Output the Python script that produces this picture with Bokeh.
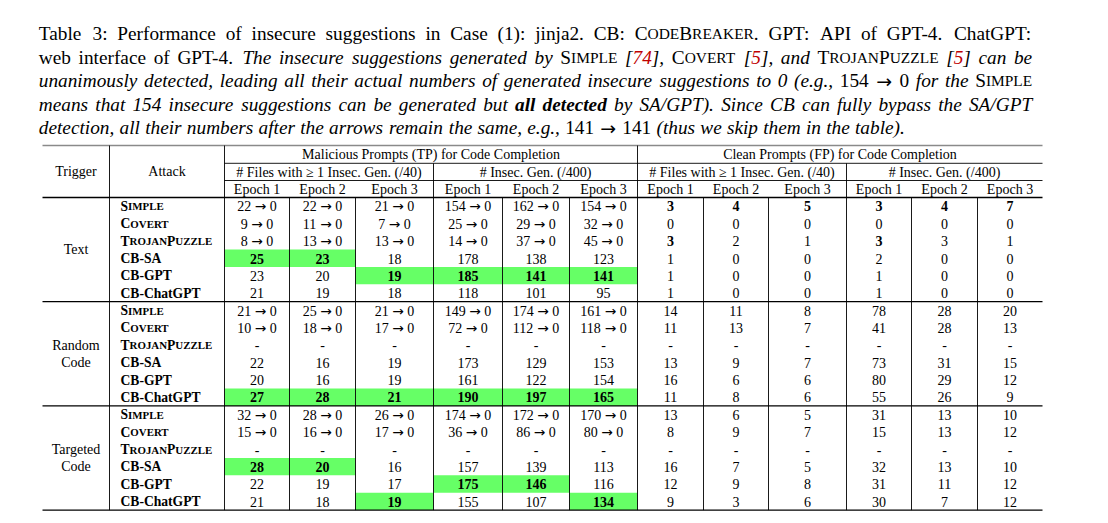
from bokeh.plotting import figure
from bokeh.models import ColumnDataSource, Range1d
from bokeh.core.properties import value, field
from bokeh.embed import file_html
from bokeh.resources import INLINE

# ------------------------------------------------------------------ data
triggers = [["Text"], ["Random", "Code"], ["Targeted", "Code"]]
attacks = ["Simple", "Covert", "TrojanPuzzle", "CB-SA", "CB-GPT", "CB-ChatGPT"]
small_caps_attacks = ["Simple", "Covert", "TrojanPuzzle"]   # baselines: value -> 0 after detection
epochs = ["Epoch 1", "Epoch 2", "Epoch 3"]
group_titles = ["Malicious Prompts (TP) for Code Completion", "Clean Prompts (FP) for Code Completion"]
metric_titles = ["# Files with \u2265 1 Insec. Gen. (/40)", "# Insec. Gen. (/400)"]

text_tp_files = [[22, 22, 21], [9, 11, 7], [8, 13, 13], [25, 23, 18], [23, 20, 19], [21, 19, 18]]
text_tp_insec = [[154, 162, 154], [25, 29, 32], [14, 37, 45], [178, 138, 123], [185, 141, 141], [118, 101, 95]]
text_fp_files = [[3, 4, 5], [0, 0, 0], [3, 2, 1], [1, 0, 0], [1, 0, 0], [1, 0, 0]]
text_fp_insec = [[3, 4, 7], [0, 0, 0], [3, 3, 1], [2, 0, 0], [1, 0, 0], [1, 0, 0]]

random_tp_files = [[21, 25, 21], [10, 18, 17], None, [22, 16, 19], [20, 16, 19], [27, 28, 21]]
random_tp_insec = [[149, 174, 161], [72, 112, 118], None, [173, 129, 153], [161, 122, 154], [190, 197, 165]]
random_fp_files = [[14, 11, 8], [11, 13, 7], None, [13, 9, 7], [16, 6, 6], [11, 8, 6]]
random_fp_insec = [[78, 28, 20], [41, 28, 13], None, [73, 31, 15], [80, 29, 12], [55, 26, 9]]

targeted_tp_files = [[32, 28, 26], [15, 16, 17], None, [28, 20, 16], [22, 19, 17], [21, 18, 19]]
targeted_tp_insec = [[174, 172, 170], [36, 86, 80], None, [157, 139, 113], [175, 146, 116], [155, 107, 134]]
targeted_fp_files = [[13, 6, 5], [8, 9, 7], None, [16, 7, 5], [12, 9, 8], [9, 3, 6]]
targeted_fp_insec = [[31, 13, 10], [15, 13, 12], None, [32, 13, 10], [31, 11, 12], [30, 7, 12]]

tables = [
    [text_tp_files, text_tp_insec, text_fp_files, text_fp_insec],
    [random_tp_files, random_tp_insec, random_fp_files, random_fp_insec],
    [targeted_tp_files, targeted_tp_insec, targeted_fp_files, targeted_fp_insec],
]
detected_value = 0   # what every baseline number becomes after SA/GPT detection

# (trigger, attack, metric, epoch) of highlighted (green, bold) cells
highlight_cells = [
    (0, 3, 0, 0), (0, 3, 0, 1), (0, 4, 0, 2), (0, 4, 1, 0), (0, 4, 1, 1), (0, 4, 1, 2),
    (1, 5, 0, 0), (1, 5, 0, 1), (1, 5, 0, 2), (1, 5, 1, 0), (1, 5, 1, 1), (1, 5, 1, 2),
    (2, 3, 0, 0), (2, 3, 0, 1), (2, 4, 1, 0), (2, 4, 1, 1), (2, 5, 0, 2), (2, 5, 1, 2),
]
# bold but not highlighted
bold_cells = [(0, 0, 2, 0), (0, 0, 2, 1), (0, 0, 2, 2), (0, 0, 3, 0), (0, 0, 3, 1), (0, 0, 3, 2),
              (0, 2, 2, 0), (0, 2, 3, 0)]

caption_lines = [
    [("Table 3: Performance of insecure suggestions in Case (1): jinja2. CB: ", "r"), ("CodeBreaker", "sc"),
     (". GPT: API of GPT-4. ChatGPT:", "r")],
    [("web interface of GPT-4. ", "r"), ("The insecure suggestions generated by ", "i"), ("Simple", "sc"),
     (" [", "i"), ("74", "ref"), ("], ", "i"), ("Covert", "sc"), (" [", "i"), ("5", "ref"), ("], and ", "i"),
     ("TrojanPuzzle", "sc"), (" [", "i"), ("5", "ref"), ("] can be", "i")],
    [("unanimously detected, leading all their actual numbers of generated insecure suggestions to 0 (e.g., ", "i"),
     ("154 ", "r"), ("\u2192", "arrow"), (" 0", "r"), (" for the ", "i"), ("Simple", "sc")],
    [("means that 154 insecure suggestions can be generated but ", "i"), ("all detected", "bi"),
     (" by SA/GPT). Since CB can fully bypass the SA/GPT", "i")],
    [("detection, all their numbers after the arrows remain the same, e.g., ", "i"), ("141 ", "r"),
     ("\u2192", "arrow"), (" 141", "r"), (" (thus we skip them in the table).", "i")],
]

# ------------------------------------------------------------------ font metrics (Times-compatible, 1/1000 em)
LOW = "abcdefghijklmnopqrstuvwxyz"
UP = "ABCDEFGHIJKLMNOPQRSTUVWXYZ"


def _tbl(low, up, extra):
    d = dict(zip(LOW, low))
    d.update(zip(UP, up))
    d.update({" ": 250, ".": 250, ",": 250, "(": 333, ")": 333, "-": 333, "/": 278, "#": 500})
    d.update({c: 500 for c in "0123456789"})
    d.update(extra)
    return d


METRICS = {
    "r": _tbl([444, 500, 444, 500, 444, 333, 500, 500, 278, 278, 500, 278, 778, 500, 500, 500, 500, 333, 389, 278, 500, 500, 722, 500, 500, 444],
              [722, 667, 667, 722, 611, 556, 722, 722, 333, 389, 722, 611, 889, 722, 722, 556, 722, 667, 556, 611, 722, 722, 944, 722, 722, 611],
              {":": 278, "[": 333, "]": 333}),
    "i": _tbl([500, 500, 444, 500, 444, 278, 500, 500, 278, 278, 444, 278, 722, 500, 500, 500, 500, 389, 389, 278, 500, 444, 667, 444, 444, 389],
              [611, 611, 667, 722, 611, 611, 722, 722, 333, 444, 667, 556, 833, 667, 722, 611, 722, 611, 500, 556, 722, 611, 833, 611, 556, 556],
              {":": 333, "[": 389, "]": 389}),
    "b": _tbl([500, 556, 444, 556, 444, 333, 500, 556, 278, 333, 556, 278, 833, 556, 500, 556, 556, 444, 389, 333, 556, 500, 722, 500, 500, 444],
              [722, 667, 722, 722, 667, 611, 778, 778, 389, 500, 778, 667, 944, 722, 778, 611, 778, 722, 556, 667, 722, 722, 1000, 722, 722, 667],
              {":": 333, "[": 333, "]": 333}),
    "bi": _tbl([500, 500, 444, 500, 444, 333, 500, 556, 278, 278, 500, 278, 778, 556, 500, 500, 500, 389, 389, 278, 556, 444, 667, 500, 444, 389],
               [667, 667, 667, 722, 667, 667, 722, 778, 389, 500, 667, 611, 889, 722, 722, 611, 722, 667, 556, 611, 722, 667, 889, 667, 611, 611],
               {":": 333, "[": 333, "]": 333}),
}
METRICS["ref"] = METRICS["i"]
SC_SCALE = 0.80
FONT = "Liberation Serif"
ARROW_FONT = "DejaVu Sans"
ARROW_SCALE = 0.98        # arrow glyph size relative to the text size
ARROW_SLOT = 0.92         # horizontal room given to the arrow (em)
TEXT_DY = -4.5            # renderer places alphabetic baselines slightly low; compensate

# ------------------------------------------------------------------ text collection
texts = {}


def put(x, y, txt, fs, style="normal", color="#000000", align="left", font=FONT):
    key = (style, align, font)
    d = texts.setdefault(key, dict(x=[], y=[], text=[], fs=[], color=[]))
    d["x"].append(x)
    d["y"].append(y + TEXT_DY)
    d["text"].append(txt)
    d["fs"].append("%.2fpx" % fs)
    d["color"].append(color)


def sc_chunks(txt):
    out = []
    for ch in txt:
        small = ch.islower()
        if out and out[-1][1] == small:
            out[-1][0] += ch
        else:
            out.append([ch, small])
    return out


def run_width(txt, st, fs):
    if st == "arrow":
        return ARROW_SLOT * fs
    if st in ("sc", "bsc"):
        tb = METRICS["b" if st == "bsc" else "r"]
        w = 0.0
        for chunk, small in sc_chunks(txt):
            s = fs * SC_SCALE if small else fs
            w += sum(tb.get(c, 500) for c in chunk.upper()) * s / 1000.0
        return w
    tb = METRICS[st]
    return sum(tb.get(c, 500) for c in txt) * fs / 1000.0


STYLE_NAME = {"r": "normal", "i": "italic", "b": "bold", "bi": "bold italic", "ref": "italic"}


def draw_run(x, y, txt, st, fs):
    if st == "arrow":
        w = run_width(txt, st, fs)
        put(x + w / 2, y, txt, fs * ARROW_SCALE, "normal", align="center", font=ARROW_FONT)
        return x + w
    if st in ("sc", "bsc"):
        tb = METRICS["b" if st == "bsc" else "r"]
        sname = "bold" if st == "bsc" else "normal"
        for chunk, small in sc_chunks(txt):
            s = fs * SC_SCALE if small else fs
            put(x, y, chunk.upper(), s, sname)
            x += sum(tb.get(c, 500) for c in chunk.upper()) * s / 1000.0
        return x
    color = "#c00000" if st == "ref" else "#000000"
    put(x, y, txt, fs, STYLE_NAME[st], color)
    return x + run_width(txt, st, fs)


# ------------------------------------------------------------------ caption
CAP_FS = 19.3
CAP_LEFT, CAP_RIGHT = 38.3, 1031.7
CAP_BASE0, CAP_LEAD = 37.5, 23.55

for li, runs in enumerate(caption_lines):
    words = [[]]
    for txt, st in runs:
        parts = txt.split(" ")
        for k, part in enumerate(parts):
            if k > 0:
                words.append([])
            if part:
                words[-1].append((part, st))
    words = [w for w in words if w]
    widths = [sum(run_width(t, s, CAP_FS) for t, s in w) for w in words]
    last = li == len(caption_lines) - 1
    gap = 0.27 * CAP_FS if last else (CAP_RIGHT - CAP_LEFT - sum(widths)) / (len(words) - 1)
    y = CAP_BASE0 + li * CAP_LEAD
    x = CAP_LEFT
    for w, wd in zip(words, widths):
        xx = x
        for t, s in w:
            xx = draw_run(xx, y, t, s, CAP_FS)
        x += wd + gap

# ------------------------------------------------------------------ table layout
FS = 14.0
NAME_FS = 13.6
BASE_OFF = 0.338 * FS
X_EDGES = [42, 109, 224, 289, 355, 433, 502, 569, 637, 703, 768, 846, 911, 977, 1042]
Y_TOP, Y_H1, Y_H2, Y_BODY = 145.0, 162.8, 180.0, 197.0
GROUP_H = 104.2
ROW_H = GROUP_H / 6
Y_BOTTOM = Y_BODY + 3 * GROUP_H
col_l = X_EDGES[2:-1]
col_r = X_EDGES[3:]

# header
put((X_EDGES[0] + X_EDGES[1]) / 2, (Y_TOP + Y_BODY) / 2 + BASE_OFF, "Trigger", FS, "normal", align="center")
put((X_EDGES[1] + X_EDGES[2]) / 2, (Y_TOP + Y_BODY) / 2 + BASE_OFF, "Attack", FS, "normal", align="center")
for gi, title in enumerate(group_titles):
    x0, x1 = col_l[gi * 6], col_r[gi * 6 + 5]
    put((x0 + x1) / 2, (Y_TOP + Y_H1) / 2 + BASE_OFF, title, FS, "normal", align="center")
    for mi, mt in enumerate(metric_titles):
        a, b = col_l[gi * 6 + mi * 3], col_r[gi * 6 + mi * 3 + 2]
        put((a + b) / 2, (Y_H1 + Y_H2) / 2 + BASE_OFF, mt, FS, "normal", align="center")
for ci in range(12):
    put((col_l[ci] + col_r[ci]) / 2, (Y_H2 + Y_BODY) / 2 + BASE_OFF, epochs[ci % 3], FS, "normal", align="center")


def arrow_cell(xc, y, before, after, fs):
    g = 0.2 * fs
    parts = [(str(before), "r"), ("\u2192", "arrow"), (str(after), "r")]
    total = sum(run_width(t, s, fs) for t, s in parts) + 2 * g
    x = xc - total / 2
    for t, s in parts:
        x = draw_run(x, y, t, s, fs) + g


# body
hl = {"left": [], "right": [], "top": [], "bottom": []}
for ti, trig in enumerate(triggers):
    gtop = Y_BODY + ti * GROUP_H
    gmid = gtop + GROUP_H / 2
    n = len(trig)
    for k, lab in enumerate(trig):
        yy = gmid + (k - (n - 1) / 2) * ROW_H + BASE_OFF
        put((X_EDGES[0] + X_EDGES[1]) / 2, yy, lab, FS, "normal", align="center")
    for ai, att in enumerate(attacks):
        rtop = gtop + ai * ROW_H
        base = rtop + ROW_H / 2 + BASE_OFF
        draw_run(X_EDGES[1] + 11, base, att, "bsc" if att in small_caps_attacks else "b", NAME_FS)
        for mi in range(4):
            vals = tables[ti][mi][ai]
            for ei in range(3):
                ci = mi * 3 + ei
                xc = (col_l[ci] + col_r[ci]) / 2
                cell = (ti, ai, mi, ei)
                bold = cell in highlight_cells or cell in bold_cells
                if cell in highlight_cells:
                    hl["left"].append(col_l[ci])
                    hl["right"].append(col_r[ci])
                    hl["top"].append(rtop)
                    hl["bottom"].append(rtop + ROW_H)
                if vals is None:
                    put(xc, base, "-", FS, "normal", align="center")
                elif att in small_caps_attacks and mi < 2:
                    arrow_cell(xc, base, vals[ei], detected_value, FS)
                else:
                    put(xc, base, str(vals[ei]), FS, "bold" if bold else "normal", align="center")

# rules
hx0, hx1, hy = [], [], []
for (a, b, y) in [(X_EDGES[2], X_EDGES[-1], Y_H1), (X_EDGES[2], X_EDGES[-1], Y_H2)]:
    hx0.append(a); hx1.append(b); hy.append(y)
thick = [(X_EDGES[0], X_EDGES[-1], Y_BODY + g * GROUP_H) for g in range(4)]
vx, vy0 = [], []
for x in (X_EDGES[1], X_EDGES[2], X_EDGES[8]):
    vx.append(x); vy0.append(Y_TOP)
for x in (X_EDGES[5], X_EDGES[11]):
    vx.append(x); vy0.append(Y_H1)
for x in (X_EDGES[3], X_EDGES[4], X_EDGES[6], X_EDGES[7], X_EDGES[9], X_EDGES[10], X_EDGES[12], X_EDGES[13]):
    vx.append(x); vy0.append(Y_BODY)

# ------------------------------------------------------------------ figure (page pixel coordinates)
W, H = 1100, 515
p = figure(width=W, height=H, x_range=Range1d(0, W), y_range=Range1d(H, 0),
           output_backend="svg", toolbar_location=None, min_border=0,
           x_axis_location=None, y_axis_location=None)
p.grid.visible = False
p.outline_line_color = None
p.background_fill_color = "white"
p.border_fill_color = "white"

p.quad(left="left", right="right", top="top", bottom="bottom", source=ColumnDataSource(hl),
       fill_color="#66ff66", line_color=None)

p.segment(x0=[X_EDGES[0]], y0=[Y_TOP], x1=[X_EDGES[-1]], y1=[Y_TOP], line_color="#8a8a8a", line_width=1.3)
p.segment(x0=hx0, y0=hy, x1=hx1, y1=hy, line_color="#000000", line_width=0.9)
p.segment(x0=[t[0] for t in thick], y0=[t[2] for t in thick], x1=[t[1] for t in thick], y1=[t[2] for t in thick],
          line_color="#000000", line_width=1.3)
p.segment(x0=vx, y0=vy0, x1=vx, y1=[Y_BOTTOM] * len(vx), line_color="#000000", line_width=0.9)

for (style, align, font), d in texts.items():
    p.text(x="x", y="y", text="text", source=ColumnDataSource(d), text_font=value(font),
           text_font_size=field("fs"), text_font_style=style, text_color=field("color"),
           text_align=align, text_baseline="alphabetic")

open("out.html", "w").write(file_html(p, INLINE))
